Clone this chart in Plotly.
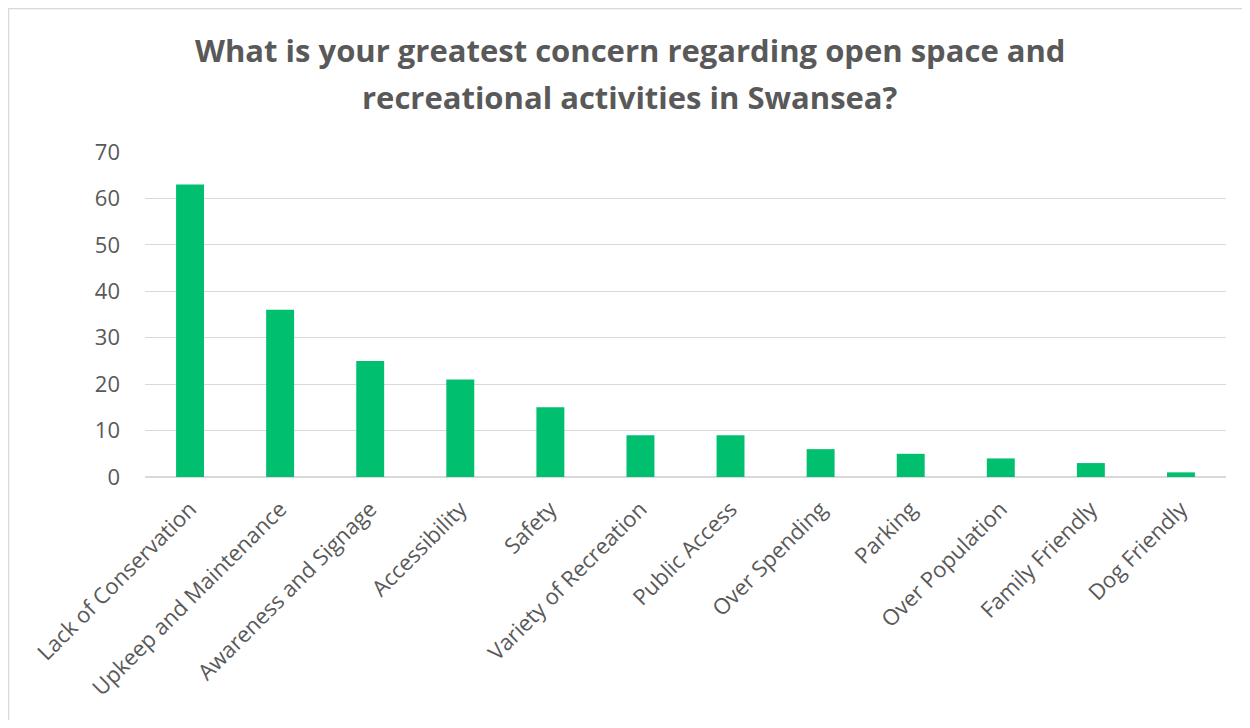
import plotly.graph_objects as go

categories = ["Lack of Conservation", "Upkeep and Maintenance", "Awareness and Signage",
              "Accessibility", "Safety", "Variety of Recreation", "Public Access",
              "Over Spending", "Parking", "Over Population", "Family Friendly", "Dog Friendly"]
values = [63, 36, 25, 21, 15, 9, 9, 6, 5, 4, 3, 1]
title_lines = ["What is your greatest concern regarding open space and",
               "recreational activities in Swansea?"]
y_ticks = [0, 10, 20, 30, 40, 50, 60, 70]

# the page body has an 8px margin, so the figure sits at (8, 8)
OFF = 8
W, H = 1250 - 2 * OFF, 728 - 2 * OFF
L, T = 145 - OFF, 152 - OFF
R = W - (1226 - OFF)
B = H - (477 - OFF)
pw, ph = W - L - R, H - T - B

def px_x(px):
    return (px - OFF - L) / pw

def px_y(py):
    return (H - B - (py - OFF)) / ph

fig = go.Figure(go.Bar(
    x=categories, y=values,
    marker=dict(color="#00BF6F", line=dict(width=0)),
))

font_main = "Open Sans, DejaVu Sans, sans-serif"

annotations = []
for txt, cy in zip(title_lines, [50, 97]):
    annotations.append(dict(
        text="<b>" + txt + "</b>", x=px_x(630), y=px_y(cy), xref="paper", yref="paper",
        xanchor="center", yanchor="middle", showarrow=False,
        font=dict(family=font_main, size=31, color="#595959"),
    ))

fig.update_layout(
    width=W, height=H,
    margin=dict(l=L, r=R, t=T, b=B),
    paper_bgcolor="white", plot_bgcolor="white",
    bargap=0.69,
    showlegend=False,
    annotations=annotations,
    xaxis=dict(
        tickangle=-45, tickfont=dict(family=font_main, size=22, color="#595959"),
        showgrid=False, showline=False, ticks="", ticklabelstandoff=14,
    ),
    yaxis=dict(
        range=[0, 70], tickvals=y_ticks,
        tickfont=dict(family=font_main, size=22, color="#595959"),
        showgrid=True, gridcolor="#d9d9d9", gridwidth=1,
        zeroline=True, zerolinecolor="#d9d9d9", zerolinewidth=1.5,
        showline=False, ticks="", ticklabelstandoff=24,
    ),
    shapes=[dict(
        type="rect", xref="paper", yref="paper",
        x0=px_x(8.5), x1=px_x(1300), y0=px_y(800), y1=px_y(8.5),
        line=dict(color="#d9d9d9", width=1.5), fillcolor="rgba(0,0,0,0)", layer="below",
    )],
)

fig.write_html("out.html")
